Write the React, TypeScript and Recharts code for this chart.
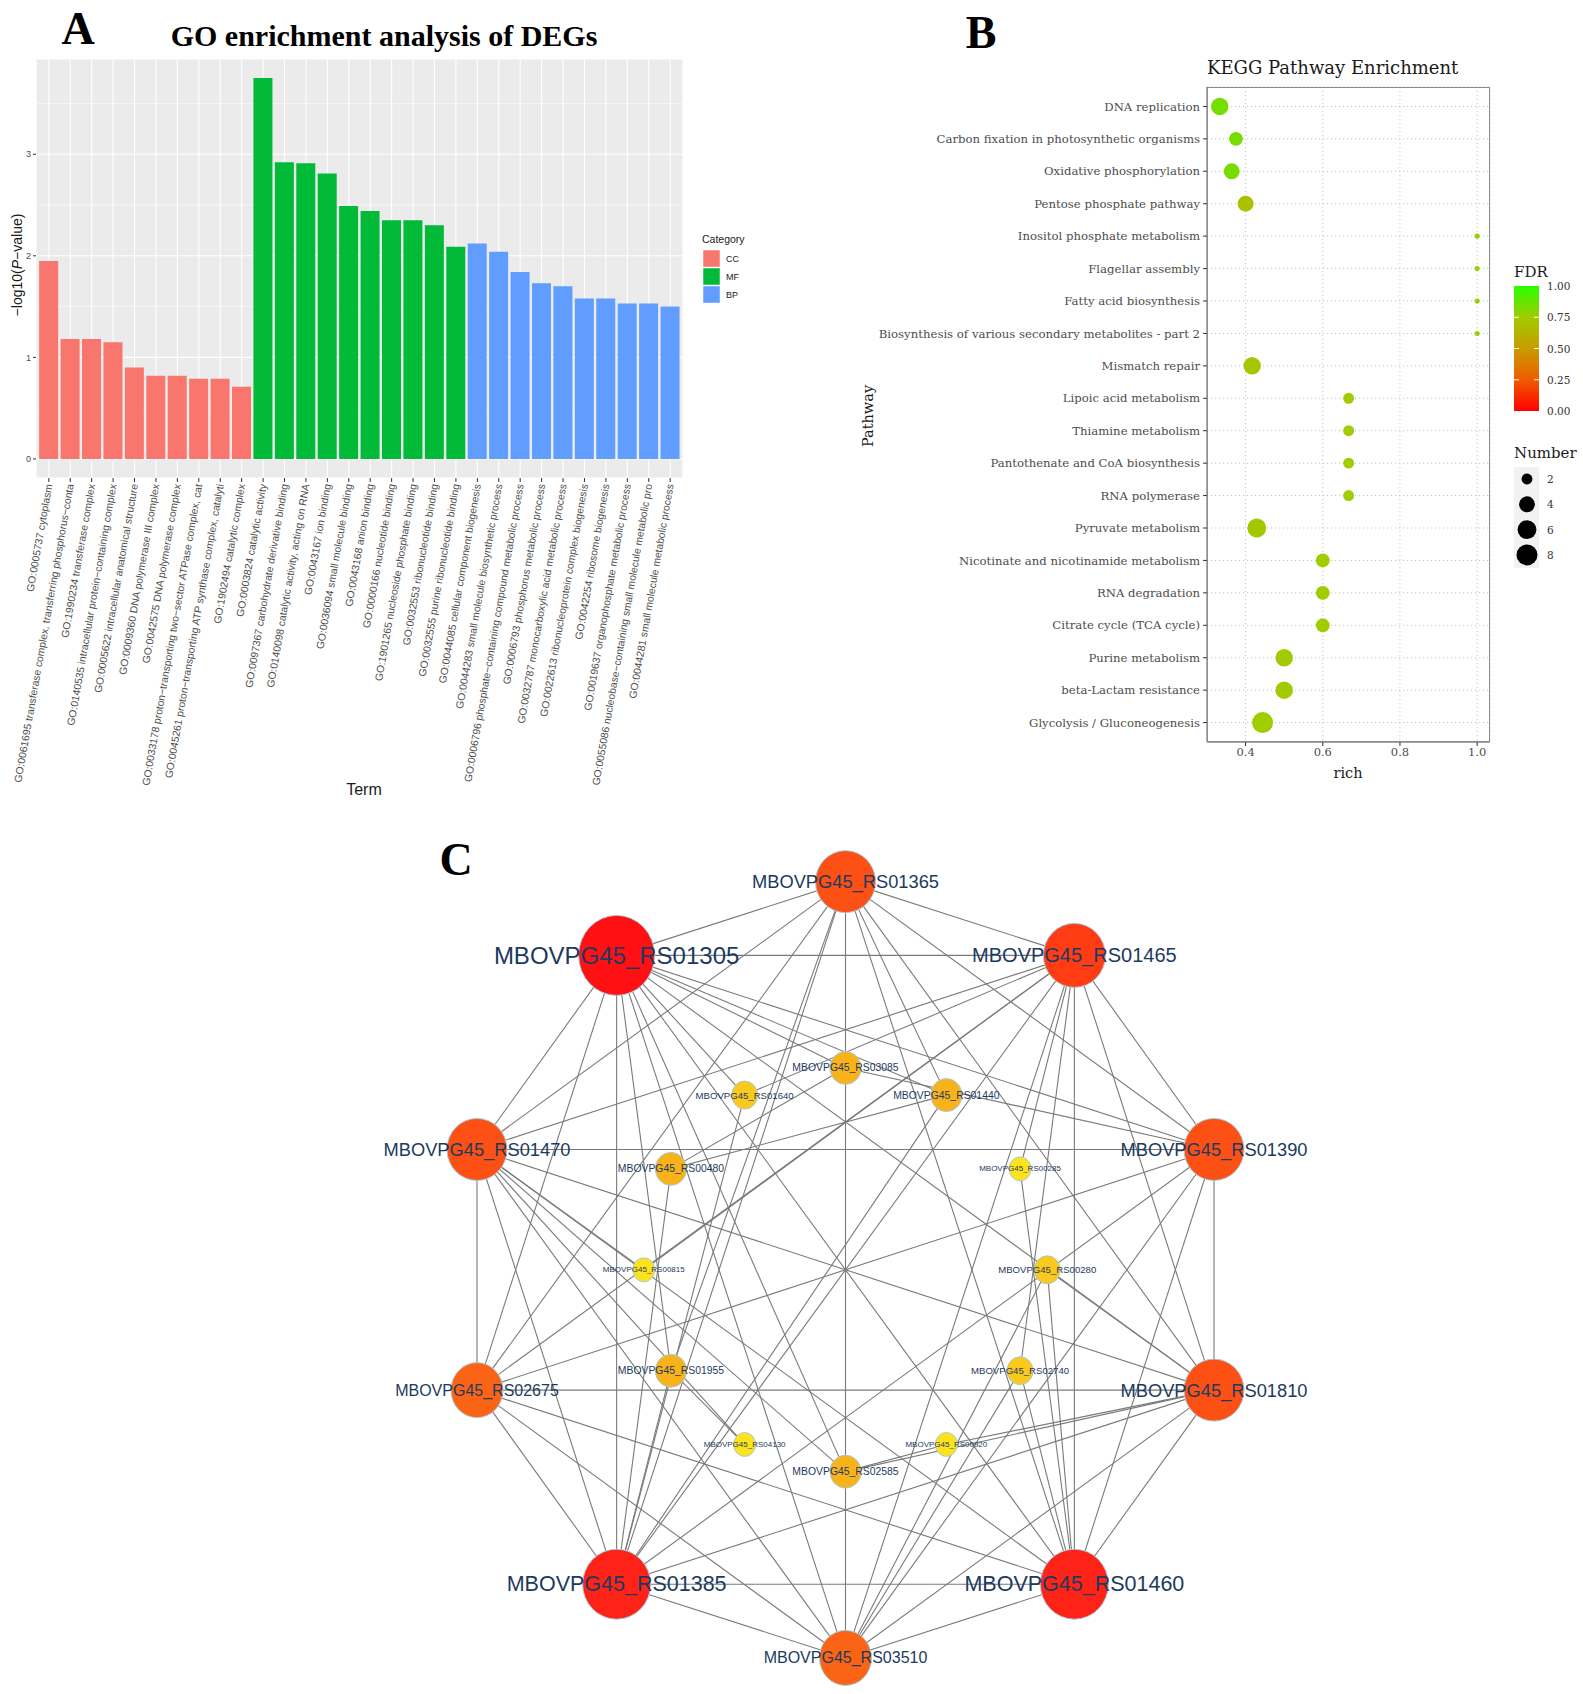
import React from 'react';
import { BarChart, Bar, XAxis, YAxis, CartesianGrid, Cell, ScatterChart, Scatter, ZAxis } from 'recharts';

const SANS = '"Liberation Sans", Arial, Helvetica, sans-serif';
const SERIF = '"DejaVu Serif", serif';
const TIMES = '"Liberation Serif", "Times New Roman", serif';

// ---------------- Panel A: GO enrichment ----------------
const goTerms = [
  'GO:0005737 cytoplasm',
  'GO:0061695 transferase complex, transferring phosphorus−conta',
  'GO:1990234 transferase complex',
  'GO:0140535 intracellular protein−containing complex',
  'GO:0005622 intracellular anatomical structure',
  'GO:0009360 DNA polymerase III complex',
  'GO:0042575 DNA polymerase complex',
  'GO:0033178 proton−transporting two−sector ATPase complex, cat',
  'GO:0045261 proton−transporting ATP synthase complex, catalyti',
  'GO:1902494 catalytic complex',
  'GO:0003824 catalytic activity',
  'GO:0097367 carbohydrate derivative binding',
  'GO:0140098 catalytic activity, acting on RNA',
  'GO:0043167 ion binding',
  'GO:0036094 small molecule binding',
  'GO:0043168 anion binding',
  'GO:0000166 nucleotide binding',
  'GO:1901265 nucleoside phosphate binding',
  'GO:0032553 ribonucleotide binding',
  'GO:0032555 purine ribonucleotide binding',
  'GO:0044085 cellular component biogenesis',
  'GO:0044283 small molecule biosynthetic process',
  'GO:0006796 phosphate−containing compound metabolic process',
  'GO:0006793 phosphorus metabolic process',
  'GO:0032787 monocarboxylic acid metabolic process',
  'GO:0022613 ribonucleoprotein complex biogenesis',
  'GO:0042254 ribosome biogenesis',
  'GO:0019637 organophosphate metabolic process',
  'GO:0055086 nucleobase−containing small molecule metabolic pro',
  'GO:0044281 small molecule metabolic process',
];
const goValues = [
  1.95, 1.18, 1.18, 1.15, 0.9, 0.82, 0.82, 0.79, 0.79, 0.71,
  3.75, 2.92, 2.91, 2.81, 2.49, 2.44, 2.35, 2.35, 2.3, 2.09,
  2.12, 2.04, 1.84, 1.73, 1.7, 1.58, 1.58, 1.53, 1.53, 1.5,
];
const goCategory = [
  'CC', 'CC', 'CC', 'CC', 'CC', 'CC', 'CC', 'CC', 'CC', 'CC',
  'MF', 'MF', 'MF', 'MF', 'MF', 'MF', 'MF', 'MF', 'MF', 'MF',
  'BP', 'BP', 'BP', 'BP', 'BP', 'BP', 'BP', 'BP', 'BP', 'BP',
];
const categoryNames = ['CC', 'MF', 'BP'];
const CATEGORY_COLORS: Record<string, string> = { CC: '#F8766D', MF: '#00BA38', BP: '#619CFF' };
const goYTicks = [0, 1, 2, 3];
const goMinorTicks = [0.5, 1.5, 2.5, 3.5];

const goData = goTerms.map((term, i) => ({ term, value: goValues[i], category: goCategory[i] }));

// ---------------- Panel B: KEGG ----------------
const keggPathways = [
  'DNA replication',
  'Carbon fixation in photosynthetic organisms',
  'Oxidative phosphorylation',
  'Pentose phosphate pathway',
  'Inositol phosphate metabolism',
  'Flagellar assembly',
  'Fatty acid biosynthesis',
  'Biosynthesis of various secondary metabolites - part 2',
  'Mismatch repair',
  'Lipoic acid metabolism',
  'Thiamine metabolism',
  'Pantothenate and CoA biosynthesis',
  'RNA polymerase',
  'Pyruvate metabolism',
  'Nicotinate and nicotinamide metabolism',
  'RNA degradation',
  'Citrate cycle (TCA cycle)',
  'Purine metabolism',
  'beta-Lactam resistance',
  'Glycolysis / Gluconeogenesis',
];
const keggRich = [0.333, 0.375, 0.364, 0.4, 1, 1, 1, 1, 0.417, 0.667, 0.667, 0.667, 0.667, 0.429, 0.6, 0.6, 0.6, 0.5, 0.5, 0.444];
const keggCount = [5, 3, 4, 4, 1, 1, 1, 1, 5, 2, 2, 2, 2, 6, 3, 3, 3, 5, 5, 8];
const keggFdr = [0.84, 0.84, 0.84, 0.69, 0.77, 0.77, 0.77, 0.77, 0.72, 0.75, 0.75, 0.75, 0.75, 0.73, 0.75, 0.75, 0.75, 0.74, 0.74, 0.75];
const keggXTicks = [0.4, 0.6, 0.8, 1.0];
const fdrLegendTicks = [1.0, 0.75, 0.5, 0.25, 0.0];
const numberLegendValues = [2, 4, 6, 8];

const keggData = keggPathways.map((pathway, i) => ({ pathway, rich: keggRich[i], count: keggCount[i], fdr: keggFdr[i] }));

const FDR_STOPS: [number, number[]][] = [
  [0, [255, 0, 0]],
  [0.25, [240, 92, 0]],
  [0.5, [200, 156, 0]],
  [0.75, [160, 204, 0]],
  [1, [40, 255, 0]],
];
function fdrColor(v: number): string {
  for (let i = 0; i < FDR_STOPS.length - 1; i++) {
    const [a, ca] = FDR_STOPS[i];
    const [b, cb] = FDR_STOPS[i + 1];
    if (v >= a && v <= b) {
      const t = (v - a) / (b - a);
      const c = ca.map((x, k) => Math.round(x + (cb[k] - x) * t));
      return `rgb(${c[0]},${c[1]},${c[2]})`;
    }
  }
  return 'rgb(40,255,0)';
}
// same area mapping as the ZAxis below (sqrt scale, domain [1,8], range [20,346])
const Z_DOMAIN = [1, 8];
const Z_RANGE = [20, 346];
function legendRadius(n: number) {
  const t = (Math.sqrt(n) - Math.sqrt(Z_DOMAIN[0])) / (Math.sqrt(Z_DOMAIN[1]) - Math.sqrt(Z_DOMAIN[0]));
  const area = Z_RANGE[0] + t * (Z_RANGE[1] - Z_RANGE[0]);
  return Math.sqrt(area / Math.PI);
}

// ---------------- Panel C: network ----------------
const netKeys = [
  'RS01365', 'RS01465', 'RS01390', 'RS01810', 'RS01460', 'RS03510', 'RS01385', 'RS02675', 'RS01470', 'RS01305',
  'RS03085', 'RS01440', 'RS00285', 'RS00280', 'RS02740', 'RS00920', 'RS02585', 'RS04130', 'RS01955', 'RS00815', 'RS00480', 'RS01640',
];
const netX = [0, 0.59, 0.95, 0.95, 0.59, 0, -0.59, -0.95, -0.95, -0.59, 0, 0.26, 0.45, 0.52, 0.45, 0.26, 0, -0.26, -0.45, -0.52, -0.45, -0.26];
const netY = [1, 0.81, 0.31, -0.31, -0.81, -1, -0.81, -0.31, 0.31, 0.81, 0.52, 0.45, 0.26, 0, -0.26, -0.45, -0.52, -0.45, -0.26, 0, 0.26, 0.45];
const netDegree = [11, 12, 11, 11, 13, 10, 13, 10, 11, 14, 4, 4, 2, 3, 3, 2, 4, 2, 4, 2, 4, 3];
const netEdges: [string, string][] = [
  ['RS01365', 'RS01465'], ['RS01365', 'RS01390'], ['RS01365', 'RS01810'], ['RS01365', 'RS01460'], ['RS01365', 'RS03510'],
  ['RS01365', 'RS01385'], ['RS01365', 'RS02675'], ['RS01365', 'RS01470'], ['RS01365', 'RS01305'],
  ['RS01465', 'RS01390'], ['RS01465', 'RS01810'], ['RS01465', 'RS01460'], ['RS01465', 'RS03510'], ['RS01465', 'RS01385'],
  ['RS01465', 'RS02675'], ['RS01465', 'RS01470'], ['RS01465', 'RS01305'],
  ['RS01390', 'RS01810'], ['RS01390', 'RS01460'], ['RS01390', 'RS03510'], ['RS01390', 'RS01385'], ['RS01390', 'RS02675'],
  ['RS01390', 'RS01470'], ['RS01390', 'RS01305'],
  ['RS01810', 'RS01460'], ['RS01810', 'RS03510'], ['RS01810', 'RS01385'], ['RS01810', 'RS02675'], ['RS01810', 'RS01470'], ['RS01810', 'RS01305'],
  ['RS01460', 'RS03510'], ['RS01460', 'RS01385'], ['RS01460', 'RS02675'], ['RS01460', 'RS01470'], ['RS01460', 'RS01305'],
  ['RS03510', 'RS01385'], ['RS03510', 'RS02675'], ['RS03510', 'RS01470'], ['RS03510', 'RS01305'],
  ['RS01385', 'RS02675'], ['RS01385', 'RS01470'], ['RS01385', 'RS01305'],
  ['RS02675', 'RS01470'], ['RS02675', 'RS01305'],
  ['RS01470', 'RS01305'],
  ['RS03085', 'RS01305'], ['RS03085', 'RS01390'], ['RS03085', 'RS00480'],
  ['RS01640', 'RS01305'], ['RS01640', 'RS01385'], ['RS01640', 'RS01465'],
  ['RS01440', 'RS01305'], ['RS01440', 'RS00480'], ['RS01440', 'RS01365'], ['RS01440', 'RS01385'],
  ['RS00480', 'RS01385'],
  ['RS00285', 'RS01465'], ['RS00285', 'RS01460'],
  ['RS00815', 'RS01470'], ['RS00815', 'RS01465'],
  ['RS00280', 'RS01460'], ['RS00280', 'RS03510'], ['RS00280', 'RS01810'],
  ['RS01955', 'RS01305'], ['RS01955', 'RS04130'], ['RS01955', 'RS01385'], ['RS01955', 'RS01365'],
  ['RS02740', 'RS01465'], ['RS02740', 'RS03510'], ['RS02740', 'RS01460'],
  ['RS04130', 'RS01470'],
  ['RS00920', 'RS02585'], ['RS00920', 'RS01810'],
  ['RS02585', 'RS01470'], ['RS02585', 'RS01305'], ['RS02585', 'RS01810'],
];
// visual style per degree (Cytoscape-like continuous mapping)
const DEGREE_STYLE: Record<number, { rx: number; ry: number; font: number; fill: string }> = {
  14: { rx: 38, ry: 40, font: 24, fill: '#FF1013' },
  13: { rx: 34, ry: 35, font: 21.5, fill: '#FF2317' },
  12: { rx: 31, ry: 32, font: 20, fill: '#FF3C14' },
  11: { rx: 30, ry: 31, font: 18.3, fill: '#FC5014' },
  10: { rx: 26, ry: 27.5, font: 16, fill: '#FA6414' },
  4: { rx: 15.5, ry: 16.5, font: 10.4, fill: '#F8B21A' },
  3: { rx: 13, ry: 14, font: 9.6, fill: '#FBC81C' },
  2: { rx: 11, ry: 12, font: 8, fill: '#FDE31C' },
};

const netNodes = netKeys.map((key, i) => ({ key, label: 'MBOVPG45_' + key, x: netX[i], y: netY[i], degree: netDegree[i] }));
const nodeByKey: Record<string, any> = {};
netNodes.forEach((n) => { nodeByKey[n.key] = n; });
const edgeData = netEdges.map(([a, b]) => [nodeByKey[a], nodeByKey[b]]);

// ---------------- shapes ----------------
const GoTick = (props: any) => {
  const { x, y, payload } = props;
  return (
    <text
      x={x}
      y={y}
      transform={`rotate(-80, ${x}, ${y})`}
      textAnchor="end"
      dy="0.35em"
      fontSize={10.4}
      fill="#4D4D4D"
      fontFamily={SANS}
    >
      {payload.value}
    </text>
  );
};

const PathwayTick = (props: any) => {
  const { x, y, payload } = props;
  return (
    <text x={x - 1} y={y} textAnchor="end" dy="0.35em" fontSize={11.7} fill="#4D4D4D" fontFamily={SERIF}>
      {payload.value}
    </text>
  );
};

const EmptyShape = () => <g />;

const NodeShape = (props: any) => {
  const { cx, cy, payload } = props;
  const s = DEGREE_STYLE[payload.degree];
  return <ellipse cx={cx} cy={cy} rx={s.rx} ry={s.ry} fill={s.fill} stroke="#A9CADB" strokeWidth={1} />;
};

const NodeLabel = (props: any) => {
  const { cx, cy, payload } = props;
  const s = DEGREE_STYLE[payload.degree];
  return (
    <text x={cx} y={cy} textAnchor="middle" dominantBaseline="central" fontSize={s.font} fill="#1C3A60" fontFamily={SANS}>
      {payload.label}
    </text>
  );
};

export default function App() {
  return (
    <div style={{ position: 'absolute', left: 0, top: 0, width: 1583, height: 1694, background: '#FFFFFF', overflow: 'hidden' }}>
      {/* Panel A */}
      <div style={{ position: 'absolute', left: 0, top: 0 }}>
        <BarChart width={800} height={800} data={goData} margin={{ top: 59, right: 117, bottom: 8, left: 6 }} barCategoryGap="5%">
          <CartesianGrid fill="#EBEBEB" stroke="#FFFFFF" strokeWidth={1.1} />
          <CartesianGrid fill="none" stroke="#FFFFFF" strokeWidth={0.5} vertical={false} horizontalValues={goMinorTicks} />
          <XAxis
            dataKey="term"
            interval={0}
            height={314}
            tick={(p: any) => <GoTick {...p} />}
            tickSize={4}
            tickLine={{ stroke: '#333333' }}
            axisLine={false}
            padding={{ left: 2.1, right: 2.1 }}
          />
          <YAxis
            width={30}
            type="number"
            domain={[-0.1875, 3.9375]}
            ticks={goYTicks}
            allowDataOverflow
            tickSize={3}
            tickLine={{ stroke: '#333333' }}
            axisLine={false}
            tick={{ fontSize: 9, fill: '#4D4D4D', fontFamily: SANS }}
          />
          <Bar dataKey="value" isAnimationActive={false}>
            {goData.map((d, i) => (
              <Cell key={i} fill={CATEGORY_COLORS[d.category]} />
            ))}
          </Bar>
        </BarChart>
      </div>

      {/* Panel B */}
      <div style={{ position: 'absolute', left: 860, top: 50 }}>
        <ScatterChart width={723} height={750} margin={{ top: 37, right: 93, bottom: 8, left: 7 }}>
          <CartesianGrid stroke="#C4C4C4" strokeDasharray="1.2 2.8" />
          <XAxis
            type="number"
            dataKey="rich"
            domain={[0.3, 1.0333]}
            ticks={keggXTicks}
            allowDataOverflow
            height={50}
            tickSize={4}
            tickLine={{ stroke: '#333333' }}
            axisLine={{ stroke: '#8C8C8C', strokeWidth: 1.3 }}
            tickFormatter={(v: number) => v.toFixed(1)}
            tick={{ fontSize: 11.5, fill: '#4D4D4D', fontFamily: SERIF }}
          />
          <YAxis
            type="category"
            dataKey="pathway"
            width={340}
            reversed
            interval={0}
            padding={{ top: 3.2, bottom: 3.2 }}
            tickSize={4}
            tickLine={{ stroke: '#333333' }}
            axisLine={{ stroke: '#8C8C8C', strokeWidth: 1.3 }}
            tick={(p: any) => <PathwayTick {...p} />}
          />
          <ZAxis type="number" dataKey="count" domain={Z_DOMAIN} range={Z_RANGE} scale="sqrt" />
          <Scatter data={keggData} isAnimationActive={false}>
            {keggData.map((d, i) => (
              <Cell key={i} fill={fdrColor(d.fdr)} />
            ))}
          </Scatter>
        </ScatterChart>
      </div>
      <div style={{ position: 'absolute', left: 1207, top: 87, width: 283, height: 655, border: '1px solid #8C8C8C', boxSizing: 'border-box', pointerEvents: 'none' }} />

      {/* Panel C */}
      <div style={{ position: 'absolute', left: 0, top: 790 }}>
        <ScatterChart width={1583} height={904} margin={{ top: 14, right: 272, bottom: 5, left: 380 }}>
          <XAxis type="number" dataKey="x" domain={[-1.2, 1.2]} hide allowDataOverflow />
          <YAxis type="number" dataKey="y" domain={[-1.08, 1.2]} hide allowDataOverflow />
          {edgeData.map((e, i) => (
            <Scatter
              key={'e' + i}
              data={e}
              fill="#7A7A7A"
              line={{ stroke: '#7A7A7A', strokeWidth: 1.1 }}
              shape={EmptyShape}
              isAnimationActive={false}
            />
          ))}
          <Scatter data={netNodes} shape={NodeShape} isAnimationActive={false} />
          <Scatter data={netNodes} shape={NodeLabel} isAnimationActive={false} />
        </ScatterChart>
      </div>

      {/* Overlay texts & legends */}
      <svg width={1583} height={1694} style={{ position: 'absolute', left: 0, top: 0, pointerEvents: 'none' }}>
        <defs>
          <linearGradient id="fdrGrad" x1="0" y1="0" x2="0" y2="1">
            {fdrLegendTicks.map((v, i) => (
              <stop key={i} offset={`${(1 - v) * 100}%`} stopColor={fdrColor(v)} />
            ))}
          </linearGradient>
        </defs>
        {/* Panel A texts */}
        <text x={78} y={44} textAnchor="middle" fontFamily={TIMES} fontWeight="bold" fontSize={46} fill="#000">A</text>
        <text x={384} y={46} textAnchor="middle" fontFamily={TIMES} fontWeight="bold" fontSize={30} fill="#000">GO enrichment analysis of DEGs</text>
        <text x={22} y={265} transform="rotate(-90, 22, 265)" textAnchor="middle" fontFamily={SANS} fontSize={14} fill="#1A1A1A">
          −log10(<tspan fontStyle="italic">P</tspan>−value)
        </text>
        <text x={364} y={795} textAnchor="middle" fontFamily={SANS} fontSize={16} fill="#1A1A1A">Term</text>
        <text x={702} y={243} fontFamily={SANS} fontSize={10.5} fill="#1A1A1A">Category</text>
        {categoryNames.map((c, i) => (
          <g key={c}>
            <rect x={703} y={250 + i * 18} width={17} height={17} fill={CATEGORY_COLORS[c]} stroke="#FFFFFF" strokeWidth={0.5} />
            <text x={726} y={262 + i * 18} fontFamily={SANS} fontSize={9} fill="#1A1A1A">{c}</text>
          </g>
        ))}

        {/* Panel B texts */}
        <text x={981} y={48} textAnchor="middle" fontFamily={TIMES} fontWeight="bold" fontSize={46} fill="#000">B</text>
        <text x={1207} y={74} fontFamily={SERIF} fontSize={18} fill="#1A1A1A">KEGG Pathway Enrichment</text>
        <text x={873} y={416} transform="rotate(-90, 873, 416)" textAnchor="middle" fontFamily={SERIF} fontSize={14.5} fill="#1A1A1A">Pathway</text>
        <text x={1348} y={778} textAnchor="middle" fontFamily={SERIF} fontSize={14.5} fill="#1A1A1A">rich</text>
        <text x={1514} y={277} fontFamily={SERIF} fontSize={15} fill="#1A1A1A">FDR</text>
        <rect x={1514} y={286} width={25} height={125} fill="url(#fdrGrad)" />
        {fdrLegendTicks.map((v, i) => {
          const yy = 286 + (1 - v) * 125;
          return (
            <g key={i}>
              {v > 0 && v < 1 ? (
                <>
                  <line x1={1514} x2={1519} y1={yy} y2={yy} stroke="#FFFFFF" strokeWidth={1} />
                  <line x1={1534} x2={1539} y1={yy} y2={yy} stroke="#FFFFFF" strokeWidth={1} />
                </>
              ) : null}
              <text x={1547} y={yy + 4} fontFamily={SERIF} fontSize={10.5} fill="#333333">{v.toFixed(2)}</text>
            </g>
          );
        })}
        <text x={1514} y={458} fontFamily={SERIF} fontSize={15} fill="#1A1A1A">Number</text>
        <rect x={1514} y={467} width={25} height={101} fill="#F2F2F2" />
        {numberLegendValues.map((n, i) => (
          <g key={n}>
            <circle cx={1527} cy={479 + i * 25.3} r={legendRadius(n)} fill="#000000" />
            <text x={1547} y={483 + i * 25.3} fontFamily={SERIF} fontSize={10.5} fill="#333333">{n}</text>
          </g>
        ))}

        {/* Panel C */}
        <text x={456} y={875} textAnchor="middle" fontFamily={TIMES} fontWeight="bold" fontSize={46} fill="#000">C</text>
      </svg>
    </div>
  );
}
